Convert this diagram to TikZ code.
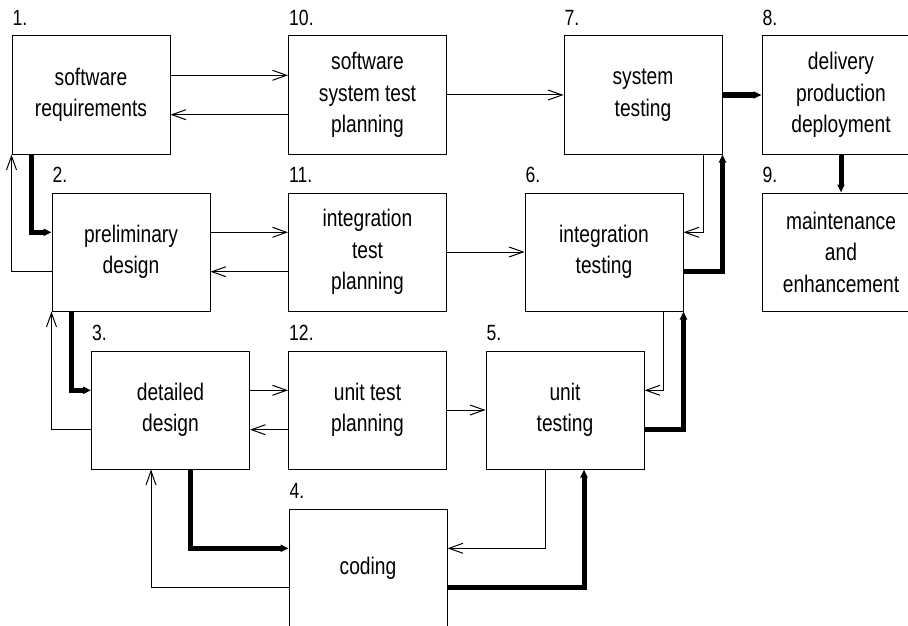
\documentclass[tikz,border=0pt]{standalone}
\usepackage{fontspec}
\setmainfont{Liberation Sans}[FakeStretch=0.8]
\usetikzlibrary{arrows.meta}
\begin{document}
\begin{tikzpicture}[x=1pt, y=-1pt,
  stage/.style={draw=black, line width=1pt, rectangle, minimum width=158pt,
    minimum height=118pt, inner sep=0pt, align=center,
    font=\fontsize{24pt}{31.5pt}\selectfont},
  numlab/.style={anchor=base west, inner sep=0pt, xshift=1pt, yshift=10pt,
    font=\fontsize{22pt}{26pt}\selectfont},
  flow/.style={draw=black, line width=1pt,
    -{Straight Barb[length=14pt,width=10pt]}},
  mainflow/.style={draw=black, line width=5pt,
    -{Triangle[length=8pt,width=7pt]}}]
\useasboundingbox (0,0) rectangle (908,626);

% stages
\node[stage] (b1)  at (91,95)    {software\\requirements};
\node[stage] (b10) at (367.5,95) {software\\system test\\planning};
\node[stage] (b7)  at (643,95)   {system\\testing};
\node[stage] (b8)  at (841,95)   {delivery\\production\\deployment};
\node[stage] (b2)  at (131,252)  {preliminary\\design};
\node[stage] (b11) at (367.5,252){integration\\test\\planning};
\node[stage] (b6)  at (604,252)  {integration\\testing};
\node[stage] (b9)  at (841,252)  {maintenance\\and\\enhancement};
\node[stage] (b3)  at (170.5,410){detailed\\design};
\node[stage] (b12) at (367.5,410){unit test\\planning};
\node[stage] (b5)  at (565,410)  {unit\\testing};
\node[stage] (b4)  at (368,568)  {coding};

% step numbers
\node[numlab] (n1)  at (b1.north west)  {1.};
\node[numlab] (n10) at (b10.north west) {10.};
\node[numlab] (n7)  at (b7.north west)  {7.};
\node[numlab] (n8)  at (b8.north west)  {8.};
\node[numlab] (n2)  at (b2.north west)  {2.};
\node[numlab] (n11) at (b11.north west) {11.};
\node[numlab] (n6)  at (b6.north west)  {6.};
\node[numlab] (n9)  at (b9.north west)  {9.};
\node[numlab] (n3)  at (b3.north west)  {3.};
\node[numlab] (n12) at (b12.north west) {12.};
\node[numlab] (n5)  at (b5.north west)  {5.};
\node[numlab] (n4)  at (b4.north west)  {4.};

% planning exchanges
\draw[flow] ([yshift=19.7pt]b1.east) -- ([yshift=19.7pt]b10.west);
\draw[flow] ([yshift=-19.7pt]b10.west) -- ([yshift=-19.7pt]b1.east);
\draw[flow] ([yshift=19.7pt]b2.east) -- ([yshift=19.7pt]b11.west);
\draw[flow] ([yshift=-19.7pt]b11.west) -- ([yshift=-19.7pt]b2.east);
\draw[flow] ([yshift=19.7pt]b3.east) -- ([yshift=19.7pt]b12.west);
\draw[flow] ([yshift=-19.7pt]b12.west) -- ([yshift=-19.7pt]b3.east);

% test plans feed the testing stages
\draw[flow] (b10.east) -- (b7.west);
\draw[flow] (b11.east) -- (b6.west);
\draw[flow] (b12.east) -- (b5.west);

% feedback loops
\draw[flow] ([yshift=-19.7pt]b2.west) -| (b1.south west);
\draw[flow] ([yshift=-19.7pt]b3.west) -| (b2.south west);
\draw[flow] ([yshift=-19.7pt]b4.west) -| ([xshift=-19.5pt]b3.south);
\draw[flow] ([xshift=-20pt]b5.south) |- ([yshift=19.7pt]b4.east);
\draw[flow] ([xshift=-20pt]b6.south east) |- ([yshift=19.7pt]b5.east);
\draw[flow] ([xshift=-19pt]b7.south east) |- ([yshift=19.7pt]b6.east);

% main development path
\draw[mainflow] ([xshift=20pt]b1.south west) |- ([yshift=19.7pt]b2.west);
\draw[mainflow] ([xshift=20pt]b2.south west) |- ([yshift=19.7pt]b3.west);
\draw[mainflow] ([xshift=19.5pt]b3.south) |- ([yshift=19.7pt]b4.west);
\draw[mainflow] ([yshift=-19.7pt]b4.east) -| ([xshift=19pt]b5.south);
\draw[mainflow] ([yshift=-19.7pt]b5.east) -| (b6.south east);
\draw[mainflow] ([yshift=-19.7pt]b6.east) -| (b7.south east);
\draw[mainflow] (b7.east) -- (b8.west);
\draw[mainflow] (b8.south) -- (b9.north);
\end{tikzpicture}
\end{document}
